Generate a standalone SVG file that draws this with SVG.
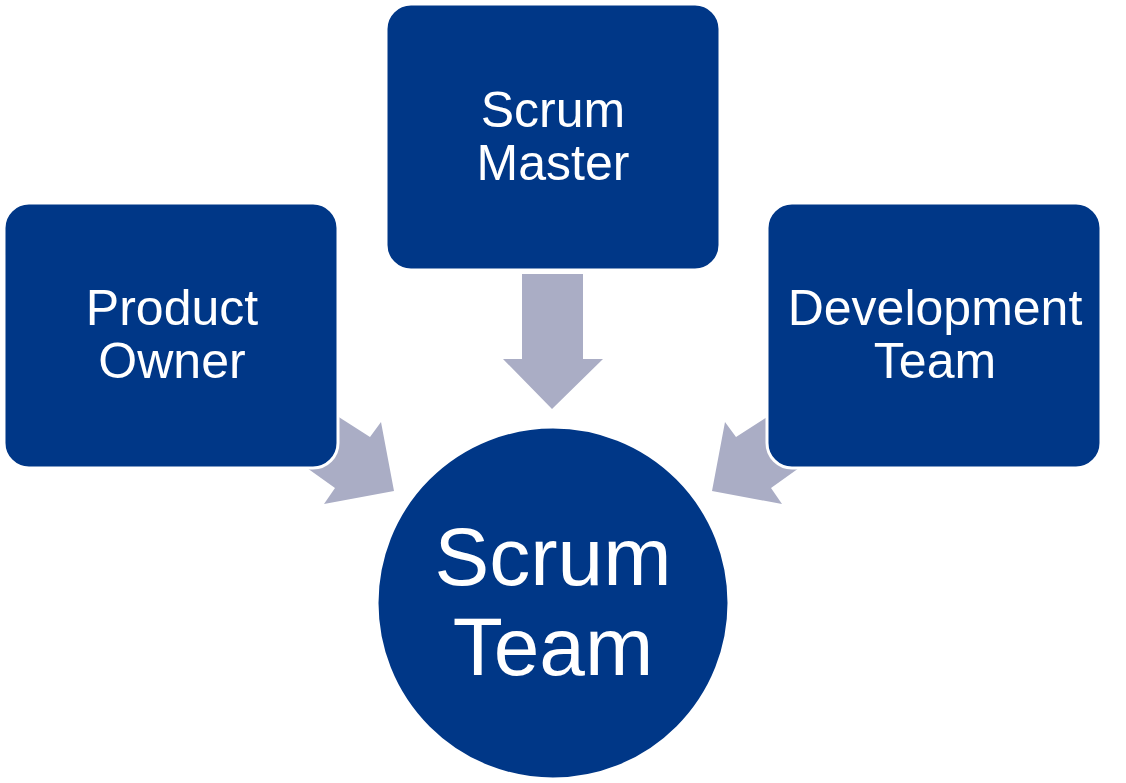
<svg xmlns="http://www.w3.org/2000/svg" width="1126" height="783" viewBox="0 0 1126 783">
  <style>
    .arrow { fill: #AAADC5; }
    .box { fill: #003787; stroke: #FFFFFF; stroke-width: 3; }
    .lbl { fill: #FFFFFF; font-family: "Liberation Sans", Arial, sans-serif; font-size: 50px; text-anchor: middle; }
    .big { fill: #FFFFFF; font-family: "Liberation Sans", Arial, sans-serif; font-size: 82px; text-anchor: middle; }
  </style>
  <rect width="1126" height="783" fill="#FFFFFF"/>
  <g id="connectors">
    <polygon class="arrow" points="522,274 583,274 583,359 603,359 552,409 503,359 522,359"/>
    <polygon class="arrow" points="320,405 370,437 381,422 394,491 324,504 335,488 300,463"/>
    <polygon class="arrow" points="786,405 736,437 725,422 712,491 782,504 771,488 806,463"/>
  </g>
  <g id="scrum-master">
    <rect class="box" x="386" y="4" width="334" height="266" rx="25" ry="25"/>
    <text class="lbl" x="553" y="127">Scrum</text>
    <text class="lbl" x="553" y="180">Master</text>
  </g>
  <g id="product-owner">
    <rect class="box" x="4" y="203" width="334" height="265" rx="25" ry="25"/>
    <text class="lbl" x="172" y="325">Product</text>
    <text class="lbl" x="172" y="378">Owner</text>
  </g>
  <g id="development-team">
    <rect class="box" x="767" y="203" width="334" height="265" rx="25" ry="25"/>
    <text class="lbl" x="935" y="325">Development</text>
    <text class="lbl" x="935" y="378">Team</text>
  </g>
  <g id="scrum-team">
    <circle class="box" cx="553" cy="603" r="176"/>
    <text class="big" x="553" y="585">Scrum</text>
    <text class="big" x="553" y="675">Team</text>
  </g>
</svg>
